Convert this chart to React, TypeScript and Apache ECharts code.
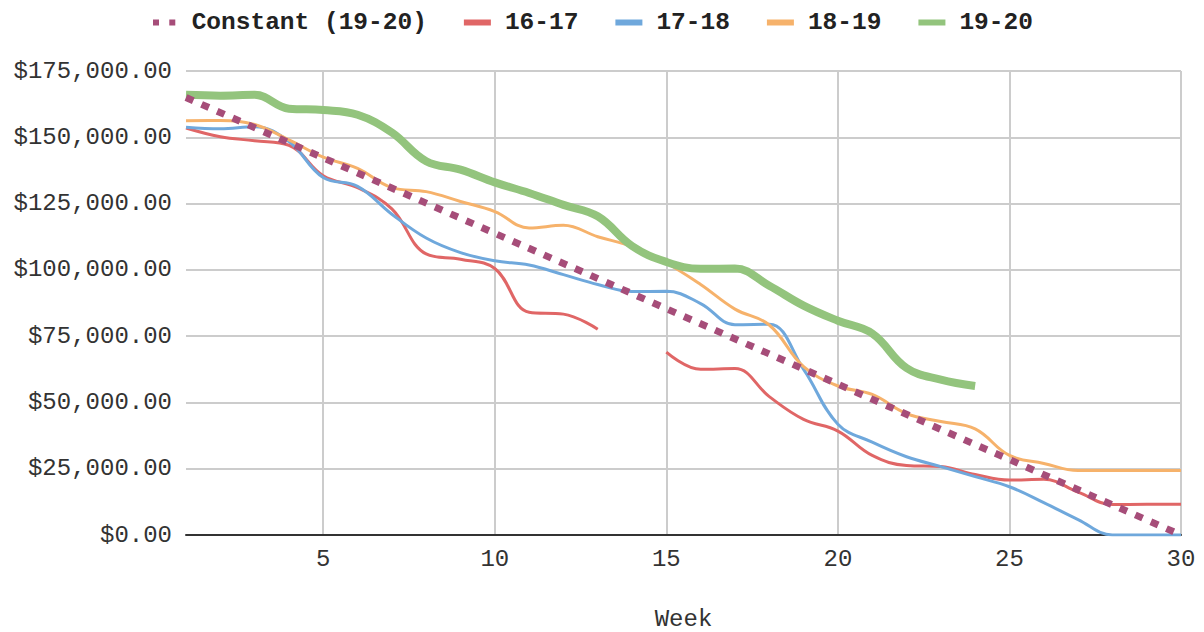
import React, { useEffect, useRef } from "react";
import * as echarts from "echarts";

const weeks = [1,2,3,4,5,6,7,8,9,10,11,12,13,14,15,16,17,18,19,20,21,22,23,24,25,26,27,28,29,30];
const xTicks = [5, 10, 15, 20, 25, 30];

const constantPoints: [number, number][] = [[1, 165000], [30, 0]];
const s1617 = [153500,150200,148700,147000,135500,131000,123000,106000,104000,100500,84000,83300,77600,null,69000,62500,62800,52200,43600,39200,30000,26200,25800,22800,20700,21000,16200,11500,11600,11600];
const s1718 = [153800,153200,154000,148400,134800,131500,121000,112000,106500,103400,101800,98200,94500,91800,91900,87300,79300,79500,62500,41800,35000,29500,25800,22000,18200,12200,5800,0,0,0];
const s1819 = [156200,156300,154800,149000,142500,138300,131000,129500,125800,122000,115800,116800,112500,108800,102600,94500,85200,79200,63500,56200,53000,45800,42800,40000,30000,27000,24300,24300,24300,24300];
const s1920 = [166000,165700,166000,160800,160300,158500,151800,141000,137800,133000,129000,124500,120200,109000,103000,100400,100500,94000,86500,80800,76000,63000,58600,56200];

const FONT = "'Liberation Mono', 'DejaVu Sans Mono', monospace";

const pair = (arr: (number | null)[]) => arr.map((v, i) => [weeks[i], v]);

const fmt = (v: number) =>
  "$" + v.toLocaleString("en-US", { minimumFractionDigits: 2, maximumFractionDigits: 2 });

export default function App() {
  const ref = useRef<HTMLDivElement>(null);
  useEffect(() => {
    if (!ref.current) return;
    const chart = echarts.init(ref.current, null, { renderer: "svg" });
    chart.setOption({
      animation: false,
      backgroundColor: "#ffffff",
      legend: {
        top: 5,
        left: 148,
        itemWidth: 27,
        itemHeight: 6,
        itemGap: 37,
        textStyle: {
          fontFamily: FONT,
          fontSize: 24.5,
          fontWeight: "bold",
          color: "#222",
          padding: [0, 0, 0, 9],
        },
        data: [
          { name: "Constant (19-20)", icon: "path://M0,0h7v7h-7z M19,0h7v7h-7z" },
          { name: "16-17", icon: "rect" },
          { name: "17-18", icon: "rect" },
          { name: "18-19", icon: "rect" },
          { name: "19-20", icon: "rect" },
        ],
      },
      grid: { left: 186, right: 23, top: 71, bottom: 97, containLabel: false, outerBoundsMode: "none" },
      xAxis: {
        type: "value",
        min: 1,
        max: 30,
        name: "Week",
        nameLocation: "middle",
        nameGap: 72,
        nameTextStyle: { fontFamily: FONT, fontSize: 24, color: "#333" },
        axisLine: { show: true, onZero: false, lineStyle: { color: "#333", width: 2 } },
        axisTick: { show: false, customValues: xTicks },
        axisLabel: { customValues: xTicks, fontFamily: FONT, fontSize: 24, color: "#333", margin: 12 },
        splitLine: { show: true, lineStyle: { color: "#cccccc", width: 2 } },
      },
      yAxis: {
        type: "value",
        min: 0,
        max: 175000,
        interval: 25000,
        axisLine: { show: false },
        axisTick: { show: false },
        axisLabel: {
          fontFamily: FONT,
          fontSize: 24,
          color: "#333",
          margin: 14,
          formatter: (v: number) => fmt(v),
        },
        splitLine: { show: true, lineStyle: { color: "#cccccc", width: 2 } },
      },
      series: [
        {
          name: "Constant (19-20)",
          type: "line",
          data: constantPoints,
          showSymbol: false,
          color: "#a64d79",
          lineStyle: { color: "#a64d79", width: 7, type: [8, 9], cap: "butt" },
          z: 3,
        },
        {
          name: "16-17",
          type: "line",
          data: pair(s1617),
          smooth: 0.4,
          showSymbol: false,
          connectNulls: false,
          color: "#e06666",
          lineStyle: { color: "#e06666", width: 3 },
          z: 2,
        },
        {
          name: "17-18",
          type: "line",
          data: pair(s1718),
          smooth: 0.4,
          showSymbol: false,
          color: "#6fa8dc",
          lineStyle: { color: "#6fa8dc", width: 3 },
          z: 2,
        },
        {
          name: "18-19",
          type: "line",
          data: pair(s1819),
          smooth: 0.4,
          showSymbol: false,
          color: "#f6b26b",
          lineStyle: { color: "#f6b26b", width: 3 },
          z: 2,
        },
        {
          name: "19-20",
          type: "line",
          data: pair(s1920),
          smooth: 0.4,
          showSymbol: false,
          color: "#93c47d",
          lineStyle: { color: "#93c47d", width: 8 },
          z: 2,
        },
      ],
    });
    return () => chart.dispose();
  }, []);
  return (
    <div
      ref={ref}
      style={{ position: "fixed", left: 0, top: 0, width: 1204, height: 632 }}
    />
  );
}
